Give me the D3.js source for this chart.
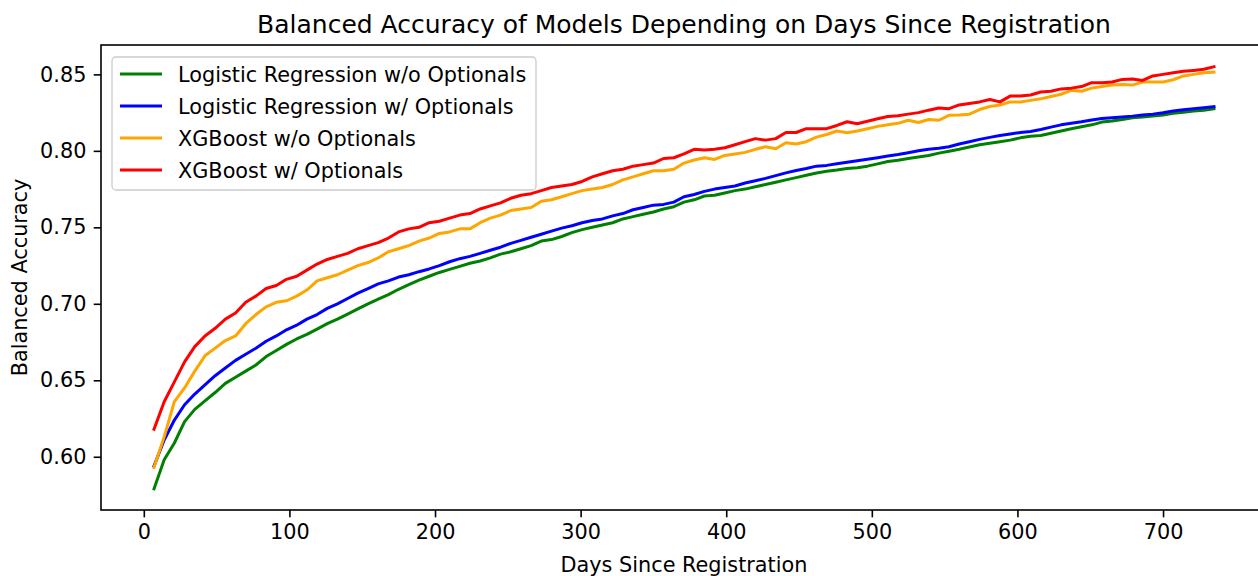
<!DOCTYPE html>
<meta charset="utf-8">
<head>
    <title>Balanced Accuracy of Models</title>
    <script type="text/javascript" src="https://cdn.jsdelivr.net/npm/d3@7"></script>
    <style>
        body { margin: 0; background: #fff; }
        text { font-family: "DejaVu Sans", sans-serif; fill: #000; }
    </style>
</head>
<body>
<script>

    // days since registration (x values)
    var days = [7,14,21,28,35,42,49,56,63,70,
        77,84,91,98,105,112,119,126,133,140,
        147,154,161,168,175,182,189,196,203,210,
        217,224,231,238,245,252,259,266,273,280,
        287,294,301,308,315,322,329,336,343,350,
        357,364,371,378,385,392,399,406,413,420,
        427,434,441,448,455,462,469,476,483,490,
        497,504,511,518,525,532,539,546,553,560,
        567,574,581,588,595,602,609,616,623,630,
        637,644,651,658,665,672,679,686,693,700,
        707,714,721,728,735];

    var lrNoOpt = [.579,.598,.609,.623,.631,.6365,.642,.648,.652,.656,
        .660,.6655,.6695,.6735,.677,.680,.6835,.687,.690,.6933,
        .6967,.700,.703,.706,.7095,.7125,.7155,.718,.7205,.7225,
        .7245,.7265,.728,.730,.7325,.734,.736,.738,.741,.742,
        .744,.7465,.7485,.750,.7515,.753,.7555,.757,.7585,.760,
        .762,.7635,.7665,.768,.7705,.771,.7725,.774,.775,.7765,
        .778,.7795,.781,.7825,.784,.7855,.7867,.7875,.7885,.789,
        .790,.7915,.793,.7939,.795,.796,.797,.7985,.7998,.801,
        .8025,.804,.805,.806,.807,.8085,.8095,.810,.8115,.813,
        .8145,.8158,.817,.8188,.8195,.8205,.8217,.8222,.8228,.8235,
        .8245,.8252,.826,.8265,.8275];

    var lrOpt = [.594,.611,.624,.634,.641,.647,.653,.658,.663,.667,
        .671,.6755,.679,.683,.686,.690,.693,.697,.700,.7035,
        .707,.710,.713,.715,.7175,.719,.721,.7228,.725,.7275,
        .7295,.731,.733,.735,.737,.7395,.7415,.7435,.7455,.7475,
        .7495,.751,.753,.7545,.7555,.7575,.759,.7615,.763,.7645,
        .765,.7665,.770,.7715,.7735,.775,.776,.777,.779,.7805,
        .782,.7838,.7856,.7872,.7885,.790,.7905,.7915,.7925,.7935,
        .7945,.7955,.7966,.7976,.7988,.800,.801,.8017,.8027,.8045,
        .806,.8075,.8088,.810,.811,.812,.8127,.814,.8155,.817,
        .818,.819,.8202,.8211,.8217,.8222,.8227,.8235,.824,.8249,
        .826,.8268,.8275,.8282,.8289];

    var xgbNoOpt = [.593,.613,.636,.645,.656,.666,.671,.676,.679,.687,
        .693,.698,.701,.702,.705,.709,.715,.717,.719,.722,
        .725,.727,.730,.734,.736,.738,.741,.743,.746,.747,
        .749,.749,.753,.756,.758,.761,.762,.763,.767,.768,
        .770,.772,.774,.775,.776,.778,.781,.783,.785,.787,
        .787,.788,.792,.794,.7955,.7944,.797,.798,.799,.801,
        .8027,.8014,.8053,.8045,.806,.809,.8107,.813,.8118,.813,
        .8145,.816,.817,.818,.820,.8185,.8205,.820,.8232,.8235,
        .824,.827,.829,.830,.832,.832,.833,.834,.8355,.837,
        .8395,.839,.841,.842,.843,.8434,.843,.845,.845,.845,
        .8465,.849,.850,.851,.8515];

    var xgbOpt = [.618,.636,.649,.662,.672,.679,.684,.690,.694,.701,
        .705,.710,.712,.716,.718,.722,.726,.729,.731,.733,
        .736,.738,.740,.743,.747,.749,.750,.753,.754,.756,
        .758,.759,.762,.764,.766,.769,.771,.772,.774,.776,
        .777,.778,.780,.783,.785,.787,.788,.790,.791,.792,
        .795,.7955,.798,.801,.8005,.801,.802,.804,.806,.808,
        .807,.808,.812,.812,.8145,.8145,.8145,.8166,.819,.8177,
        .8194,.821,.8225,.823,.824,.825,.8266,.828,.8276,.830,
        .831,.832,.8336,.832,.8358,.8358,.8365,.8385,.839,.8405,
        .841,.842,.8446,.8446,.845,.8467,.847,.846,.849,.850,
        .851,.852,.8526,.8533,.855];

    var seriesNames = ["Logistic Regression w/o Optionals", "Logistic Regression w/ Optionals",
                       "XGBoost w/o Optionals", "XGBoost w/ Optionals"];
    var seriesValues = [lrNoOpt, lrOpt, xgbNoOpt, xgbOpt];
    var colors = ["green", "blue", "orange", "red"];

    var xTicks = [0, 100, 200, 300, 400, 500, 600, 700];
    var yTicks = [0.60, 0.65, 0.70, 0.75, 0.80, 0.85];

    var width = 1258, height = 576;
    // plot area (right edge runs past the picture, as in the original)
    var plot = { left: 101, right: 1267, top: 45, bottom: 510 };

    var svg = d3.select("body").append("svg")
        .attr("width", width)
        .attr("height", height);

    var x = d3.scaleLinear().domain([-29.4, 771.4]).range([plot.left, plot.right]);
    var y = d3.scaleLinear().domain([0.5652, 0.8692]).range([plot.bottom, plot.top]);

    // lines
    var line = d3.line()
        .x(function(d, i){ return x(days[i]); })
        .y(function(d){ return y(d); });

    var lines = svg.append("g").attr("id", "lines");
    seriesValues.forEach(function(vals, k){
        lines.append("path")
            .datum(vals)
            .attr("fill", "none")
            .attr("stroke", colors[k])
            .attr("stroke-width", 3)
            .attr("stroke-linejoin", "round")
            .attr("stroke-linecap", "square")
            .attr("d", line);
    });

    // axes
    var xAxis = d3.axisBottom(x).tickValues(xTicks).tickSize(7.3).tickPadding(7.3)
        .tickFormat(d3.format("d"));
    var yAxis = d3.axisLeft(y).tickValues(yTicks).tickSize(7.3).tickPadding(7.3)
        .tickFormat(d3.format(".2f"));

    var gx = svg.append("g")
        .attr("transform", "translate(0," + plot.bottom + ")")
        .call(xAxis);
    var gy = svg.append("g")
        .attr("transform", "translate(" + plot.left + ",0)")
        .call(yAxis);

    [gx, gy].forEach(function(g){
        g.select(".domain").remove();
        g.selectAll(".tick line").attr("stroke", "#000").attr("stroke-width", 1.6);
        g.selectAll(".tick text")
            .attr("font-family", "DejaVu Sans")
            .attr("font-size", 20.8)
            .attr("fill", "#000");
    });

    // frame
    svg.append("rect")
        .attr("x", plot.left)
        .attr("y", plot.top)
        .attr("width", plot.right - plot.left)
        .attr("height", plot.bottom - plot.top)
        .attr("fill", "none")
        .attr("stroke", "#000")
        .attr("stroke-width", 1.6);

    // titles
    var cx = (plot.left + plot.right) / 2;
    svg.append("text")
        .attr("x", cx)
        .attr("y", 32.5)
        .attr("text-anchor", "middle")
        .attr("font-size", 25)
        .text("Balanced Accuracy of Models Depending on Days Since Registration");

    svg.append("text")
        .attr("x", cx)
        .attr("y", 572)
        .attr("text-anchor", "middle")
        .attr("font-size", 20.8)
        .text("Days Since Registration");

    svg.append("text")
        .attr("transform", "translate(27," + ((plot.top + plot.bottom) / 2) + ") rotate(-90)")
        .attr("text-anchor", "middle")
        .attr("font-size", 20.8)
        .text("Balanced Accuracy");

    // legend
    var legend = svg.append("g").attr("id", "legend");
    legend.append("rect")
        .attr("x", 112)
        .attr("y", 57)
        .attr("width", 424)
        .attr("height", 133)
        .attr("rx", 4)
        .attr("fill", "#fff")
        .attr("fill-opacity", 0.8)
        .attr("stroke", "#cccccc")
        .attr("stroke-width", 1.3);

    seriesNames.forEach(function(name, i){
        var ly = 74 + i * 32;
        legend.append("line")
            .attr("x1", 120).attr("x2", 162)
            .attr("y1", ly).attr("y2", ly)
            .attr("stroke", colors[i])
            .attr("stroke-width", 3);
        legend.append("text")
            .attr("x", 178)
            .attr("y", ly + 7.5)
            .attr("font-size", 20.8)
            .text(name);
    });

</script>
</body>
</html>
